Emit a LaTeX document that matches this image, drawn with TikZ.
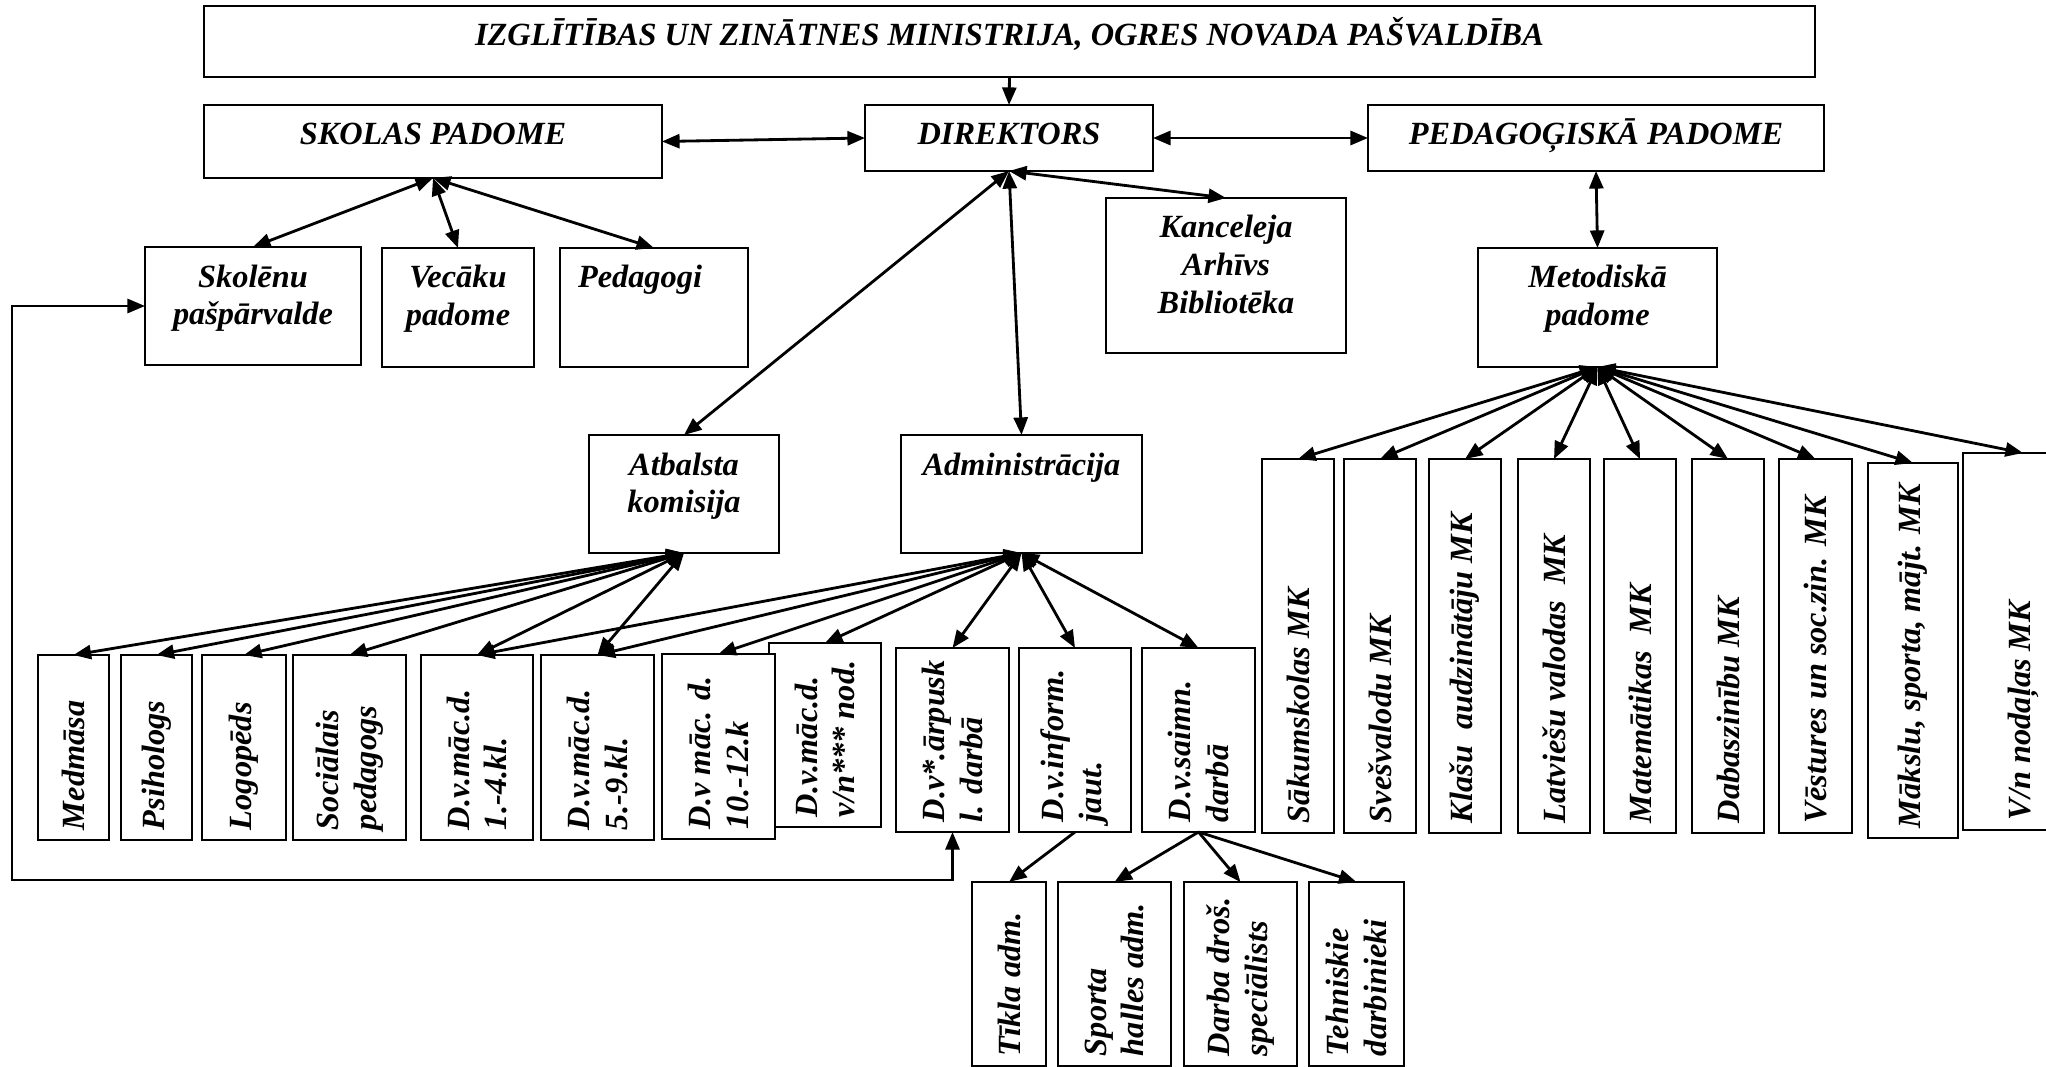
\documentclass[tikz,border=0pt]{standalone}
\usepackage{fontspec}
\setmainfont{Liberation Serif}
\usepackage{graphicx}
\usetikzlibrary{arrows.meta}
\newlength\pxu
\setlength\pxu{0.01cm}
% text of a box: width, height, text (first baseline fixed from the top)
\newcommand\hlab[3]{\parbox[c][#2\pxu][t]{#1\pxu}{\centering\rule{0pt}{40\pxu}#3}}
% text turned up, starting near the bottom of the box
\newcommand\vlab[3]{\rotatebox{90}{\parbox[c][#1\pxu][c]{#2\pxu}{\raggedright\leftskip=10\pxu #3}}}

\begin{document}
\begin{tikzpicture}[x=0.01cm, y=-0.01cm, >={Triangle[length=5pt,width=4pt]},
  org node/.style={draw, fill=white, line width=0.6pt, inner sep=0pt, outer sep=0pt, anchor=north west, font=\fontsize{9.2pt}{10.8pt}\selectfont\bfseries\itshape},
  link/.style={line width=0.8pt}]
\path[use as bounding box, fill=white] (0,0) rectangle (2046,1067);
\clip (0,0) rectangle (2046,1067);
% top levels
\node[org node] (1) at (204,6) {\hlab{1611}{71}{IZGLĪTĪBAS UN ZINĀTNES MINISTRIJA, OGRES NOVADA PAŠVALDĪBA}};
\node[org node] (2) at (204,105) {\hlab{458}{73}{SKOLAS PADOME}};
\node[org node] (3) at (865,105) {\hlab{288}{66}{DIREKTORS}};
\node[org node] (4) at (1368,105) {\hlab{456}{66}{PEDAGOĢISKĀ PADOME}};
\node[org node] (5) at (145,247) {\hlab{216}{118}{Skolēnu\\pašpārvalde}};
\node[org node] (6) at (382,248) {\hlab{152}{119}{Vecāku\\padome}};
\node[org node] (7) at (560,248) {\hlab{188}{119}{\raggedright\hspace*{18\pxu}Pedagogi}};
\node[org node] (8) at (1106,198) {\hlab{240}{155}{Kanceleja\\Arhīvs\\Bibliotēka}};
\node[org node] (9) at (1478,248) {\hlab{239}{119}{Metodiskā\\padome}};
\node[org node] (10) at (589,435) {\hlab{190}{118}{Atbalsta\\komisija}};
\node[org node] (11) at (901,435) {\hlab{241}{118}{Administrācija}};
% support and deputies
\node[org node] (12) at (38,655) {\vlab{71}{185}{Medmāsa}};
\node[org node] (13) at (121,655) {\vlab{71}{185}{Psihologs}};
\node[org node] (14) at (202,655) {\vlab{84}{185}{Logopēds}};
\node[org node] (15) at (293,655) {\vlab{113}{185}{Sociālais\\pedagogs}};
\node[org node] (16) at (421,655) {\vlab{112}{185}{D.v.māc.d.\\1.-4.kl.}};
\node[org node] (17) at (541,655) {\vlab{113}{185}{D.v.māc.d.\\5.-9.kl.}};
\node[org node] (19) at (769,643) {\vlab{112}{184}{D.v.māc.d.\\v/n*** nod.}};
\node[org node] (18) at (662,654) {\vlab{113}{185}{D.v māc. d.\\10.-12.k}};
\node[org node] (20) at (896,648) {\vlab{113}{184}{D.v*.ārpusk\\l. darbā}};
\node[org node] (21) at (1019,648) {\vlab{112}{184}{D.v.inform.\\jaut.}};
\node[org node] (22) at (1142,648) {\vlab{113}{184}{D.v.saimn.\\darbā}};
% method commissions
\node[org node] (23) at (1262,459) {\vlab{72}{374}{Sākumskolas MK}};
\node[org node] (24) at (1344,459) {\vlab{72}{374}{Svešvalodu MK}};
\node[org node] (25) at (1429,459) {\vlab{72}{374}{Klašu~ audzinātāju MK}};
\node[org node] (26) at (1518,459) {\vlab{72}{374}{Latviešu valodas~ MK}};
\node[org node] (27) at (1604,459) {\vlab{72}{374}{Matemātikas~ MK}};
\node[org node] (28) at (1692,459) {\vlab{72}{374}{Dabaszinību MK}};
\node[org node] (29) at (1779,459) {\vlab{73}{374}{Vēstures un soc.zin. MK}};
\node[org node] (30) at (1868,463) {\vlab{90}{375}{Mākslu, sporta, mājt. MK}};
\node[org node] (31) at (1963,453) {\vlab{120}{377}{V/n nodaļas MK}};
% staff
\node[org node] (32) at (972,882) {\vlab{74}{184}{Tīkla adm.}};
\node[org node] (33) at (1058,882) {\vlab{113}{184}{Sporta\\halles adm.}};
\node[org node] (34) at (1184,882) {\vlab{113}{184}{Darba droš.\\speciālists}};
\node[org node] (35) at (1309,882) {\vlab{95}{184}{Tehniskie\\darbinieki}};
\coordinate (c1) at (12,880);
\path[link,->] (1.south) edge (3.north);
\path[link,<->]
(2.east) edge (3.west)
(3.east) edge (4.west)
(2.south) edge (5.north)
(2.south) edge (6.north)
(2.south) edge (7.north)
(3.south) edge (8.north)
(3.south) edge (10.north)
(3.south) edge (11.north)
(4.south) edge (9.north);
\path[link,<->]
(10.south) edge (12.north)
(10.south) edge (13.north)
(10.south) edge (14.north)
(10.south) edge (15.north)
(10.south) edge (16.north)
(10.south) edge (17.north)
(11.south) edge (16.north)
(11.south) edge (17.north)
(11.south) edge (18.north)
(11.south) edge (19.north)
(11.south) edge (20.north)
(11.south) edge (21.north)
(11.south) edge (22.north);
\path[link,<->]
(9.south) edge (23.north)
(9.south) edge (24.north)
(9.south) edge (25.north)
(9.south) edge (26.north)
(9.south) edge (27.north)
(9.south) edge (28.north)
(9.south) edge (29.north)
(9.south) edge (30.north)
(9.south) edge (31.north);
\path[link,->]
(21.south) edge (32.north)
(22.south) edge (33.north)
(22.south) edge (34.north)
(22.south) edge (35.north);
\draw[link,<->] (5.west) -| (c1) -| (20.south);
\end{tikzpicture}
\end{document}
